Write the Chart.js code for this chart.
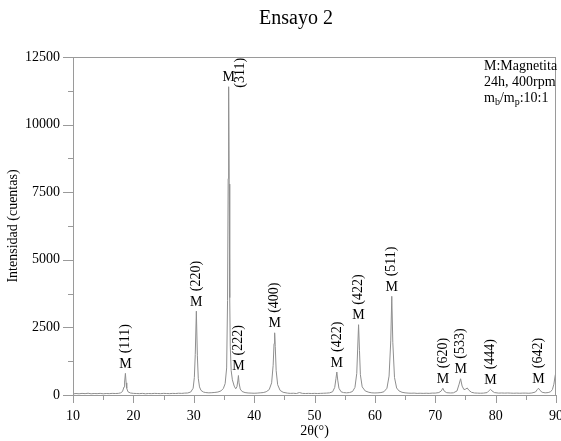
<!DOCTYPE html>
<html>
<head>
<meta charset="utf-8">
<title>Ensayo 2</title>
<script src="https://cdn.jsdelivr.net/npm/chart.js@4.4.1/dist/chart.umd.min.js"></script>
<style>
  html, body { margin: 0; padding: 0; background: #ffffff; }
  canvas { display: block; }
</style>
</head>
<body>
<canvas id="xrd" width="561" height="441"></canvas>
<script>
// Diffraction pattern, sample "Ensayo 2": 2θ in degrees, intensity in counts
const twoTheta = [
  10.0, 10.5, 11.0, 11.5, 12.0, 12.5, 13.0, 13.5, 14.0, 14.5,
  15.0, 15.5, 16.0, 16.5, 17.0, 17.5, 17.9, 18.2, 18.45, 18.55,
  18.68, 18.8, 18.9, 19.1, 19.5, 20.0, 20.5, 21.0, 21.5, 22.0,
  22.5, 23.0, 23.5, 24.0, 24.5, 25.0, 25.5, 26.0, 26.5, 27.0,
  27.5, 28.0, 28.5, 29.0, 29.5, 29.9, 30.1, 30.25, 30.43, 30.6,
  30.75, 30.95, 31.2, 31.6, 32.0, 32.5, 33.0, 33.5, 34.0, 34.5,
  34.9, 35.2, 35.45, 35.6, 35.7, 35.78, 35.87, 35.96, 36.05, 36.2,
  36.4, 36.7, 36.95, 37.15, 37.3, 37.4, 37.5, 37.7, 38.0, 38.5,
  39.0, 39.5, 40.0, 40.5, 41.0, 41.5, 42.0, 42.5, 42.9, 43.15,
  43.3, 43.4, 43.5, 43.65, 43.9, 44.3, 44.8, 45.5, 46.0, 46.5,
  47.0, 47.5, 48.0, 48.5, 49.0, 49.5, 50.0, 50.5, 51.0, 51.5,
  52.0, 52.5, 53.0, 53.35, 53.55, 53.7, 53.85, 54.05, 54.4, 54.8,
  55.3, 55.8, 56.3, 56.7, 57.0, 57.15, 57.3, 57.45, 57.6, 57.9,
  58.4, 59.0, 59.5, 60.0, 60.5, 61.0, 61.5, 62.0, 62.35, 62.63,
  62.8, 62.97, 63.25, 63.6, 64.0, 64.5, 65.0, 65.5, 66.0, 66.5,
  67.0, 67.5, 68.0, 68.5, 69.0, 69.5, 70.0, 70.6, 71.0, 71.26,
  71.5, 71.9, 72.5, 73.0, 73.6, 73.95, 74.2, 74.45, 74.75, 75.05,
  75.3, 75.55, 76.0, 76.5, 77.0, 77.5, 78.0, 78.6, 78.95, 79.15,
  79.4, 79.8, 80.5, 81.0, 81.5, 82.0, 82.5, 83.0, 83.5, 84.0,
  84.5, 85.0, 85.5, 86.0, 86.6, 86.9, 87.1, 87.35, 87.7, 88.2,
  88.7, 89.1, 89.4, 89.65, 89.85, 90.0
];
const intensity = [
  40, 55, 45, 60, 50, 65, 45, 55, 50, 60,
  45, 55, 50, 60, 55, 60, 80, 130, 300, 480,
  800, 450, 250, 120, 75, 60, 55, 50, 60, 45,
  55, 50, 60, 55, 50, 60, 55, 50, 60, 55,
  65, 60, 70, 75, 110, 250, 650, 1500, 3100, 1450,
  620, 300, 170, 110, 90, 80, 85, 95, 110, 150,
  240, 420, 1000, 3500, 8000, 11400, 7800, 3600, 1800, 900,
  560, 330, 230, 300, 520, 720, 450, 220, 130, 90,
  75, 70, 65, 70, 80, 90, 120, 200, 450, 1100,
  1900, 2300, 1800, 900, 380, 170, 100, 70, 60, 65,
  55, 90, 60, 55, 60, 55, 60, 55, 60, 65,
  70, 80, 120, 280, 600, 850, 550, 250, 120, 90,
  80, 90, 130, 280, 800, 1700, 2600, 1650, 750, 300,
  150, 100, 80, 75, 80, 90, 120, 250, 700, 2000,
  3650, 1950, 650, 260, 150, 100, 80, 70, 65, 70,
  60, 65, 60, 65, 60, 70, 70, 90, 150, 250,
  140, 85, 75, 80, 150, 400, 600, 330, 200, 220,
  260, 180, 100, 75, 70, 65, 70, 90, 170, 210,
  150, 90, 70, 75, 70, 75, 70, 65, 70, 65,
  70, 70, 65, 75, 110, 200, 250, 170, 100, 80,
  90, 120, 200, 400, 700, 850
];

// Magnetite reflections marked on the pattern
const peakAngles = [18.68, 30.43, 35.78, 37.4, 43.4, 53.7, 57.3, 62.8, 71.26, 74.2, 79.15, 87.1];
const peakHkl = ['(111)', '(220)', '(311)', '(222)', '(400)', '(422)', '(422)', '(511)', '(620)', '(533)', '(444)', '(642)'];
const phaseMark = 'M';

// Axis ticks
const xTickValues = [10, 20, 30, 40, 50, 60, 70, 80, 90];
const yTickValues = [0, 2500, 5000, 7500, 10000, 12500];

// Texts
const chartTitle = 'Ensayo 2';
const xTitle = '2θ(°)';
const yTitle = 'Intensidad (cuentas)';
const noteLines = ['M:Magnetita', '24h, 400rpm'];

const SERIF = '"Liberation Serif", "Times New Roman", Times, serif';
const FRAME = '#9a9a9a';

const decorations = {
  id: 'decorations',
  afterDraw(chart) {
    const ctx = chart.ctx;
    const area = chart.chartArea;
    const xs = chart.scales.x;
    const ys = chart.scales.y;
    ctx.save();

    // frame around the plot
    ctx.strokeStyle = FRAME;
    ctx.lineWidth = 1;
    ctx.strokeRect(Math.round(area.left) + 0.5, Math.round(area.top) + 0.5,
                   Math.round(area.right - area.left) - 1, Math.round(area.bottom - area.top));

    // tick marks: long on labelled values, short halfway between them
    ctx.beginPath();
    xTickValues.forEach((v, i) => {
      const px = Math.round(xs.getPixelForValue(v)) + 0.5;
      ctx.moveTo(px, area.bottom); ctx.lineTo(px, area.bottom + 8);
      if (i < xTickValues.length - 1) {
        const mx = Math.round(xs.getPixelForValue((v + xTickValues[i + 1]) / 2)) + 0.5;
        ctx.moveTo(mx, area.bottom); ctx.lineTo(mx, area.bottom + 5);
      }
    });
    yTickValues.forEach((v, i) => {
      const py = Math.round(ys.getPixelForValue(v)) + 0.5;
      ctx.moveTo(area.left - 10, py); ctx.lineTo(area.left, py);
      if (i < yTickValues.length - 1) {
        const my = Math.round(ys.getPixelForValue((v + yTickValues[i + 1]) / 2)) + 0.5;
        ctx.moveTo(area.left - 5, my); ctx.lineTo(area.left, my);
      }
    });
    ctx.stroke();

    ctx.fillStyle = '#000';

    // title
    ctx.font = '20px ' + SERIF;
    ctx.textAlign = 'center';
    ctx.textBaseline = 'middle';
    ctx.fillText(chartTitle, 296, 19);

    // sample notes, top right
    ctx.font = '14px ' + SERIF;
    ctx.textAlign = 'left';
    const nx = 484;
    noteLines.forEach((t, i) => ctx.fillText(t, nx, 66 + i * 16));
    let cx = nx;
    const ny = 98;
    const part = (t, size, dy) => {
      ctx.font = size + 'px ' + SERIF;
      ctx.fillText(t, cx, ny + dy);
      cx += ctx.measureText(t).width;
    };
    part('m', 14, 0); part('b', 10, 4); part('/m', 14, 0); part('p', 10, 4); part(':10:1', 14, 0);

    // reflection labels above each peak
    ctx.font = '14px ' + SERIF;
    ctx.textAlign = 'center';
    ctx.textBaseline = 'middle';
    peakAngles.forEach((a, i) => {
      let top = 0;
      twoTheta.forEach((t, j) => { if (Math.abs(t - a) <= 0.15) top = Math.max(top, intensity[j]); });
      const px = xs.getPixelForValue(a);
      const mY = ys.getPixelForValue(top) - 9;
      ctx.fillText(phaseMark, px, mY);
      const w = ctx.measureText(peakHkl[i]).width;
      ctx.save();
      if (mY - 11 - w < area.top) {
        // no headroom under the frame: set the indices beside the mark
        ctx.translate(px + 12, mY - 5);
      } else {
        ctx.translate(px, mY - 11 - w / 2);
      }
      ctx.rotate(-Math.PI / 2);
      ctx.fillText(peakHkl[i], 0, 0);
      ctx.restore();
    });

    ctx.restore();
  }
};

new Chart(document.getElementById('xrd'), {
  type: 'line',
  data: {
    datasets: [{
      data: twoTheta.map((t, i) => ({ x: t, y: intensity[i] })),
      borderColor: '#8e8e8e',
      borderWidth: 1,
      pointRadius: 0,
      tension: 0,
      fill: false
    }]
  },
  options: {
    responsive: false,
    animation: false,
    devicePixelRatio: 1,
    layout: { padding: { top: 57, right: 5, left: 0, bottom: 0 } },
    plugins: { legend: { display: false }, tooltip: { enabled: false } },
    scales: {
      x: {
        type: 'linear', min: 10, max: 90,
        afterBuildTicks: s => { s.ticks = xTickValues.map(v => ({ value: v })); },
        afterFit: s => { s.height = 46; s.paddingLeft = 0; s.paddingRight = 0; },
        grid: { display: false, drawTicks: false },
        border: { display: false },
        ticks: { padding: 13, maxRotation: 0, autoSkip: false, color: '#000',
                 font: { family: SERIF, size: 14 }, callback: v => String(v) },
        title: { display: true, text: xTitle, color: '#000', font: { family: SERIF, size: 14 }, padding: { top: 0, bottom: 1 } }
      },
      y: {
        type: 'linear', min: 0, max: 12500,
        afterBuildTicks: s => { s.ticks = yTickValues.map(v => ({ value: v })); },
        afterFit: s => { s.width = 73; },
        grid: { display: false, drawTicks: false },
        border: { display: false },
        ticks: { padding: 13, autoSkip: false, color: '#000',
                 font: { family: SERIF, size: 14 }, callback: v => String(v) },
        title: { display: true, text: yTitle, color: '#000', font: { family: SERIF, size: 14 }, padding: { top: 5, bottom: 0 } }
      }
    }
  },
  plugins: [decorations]
});
</script>
</body>
</html>
